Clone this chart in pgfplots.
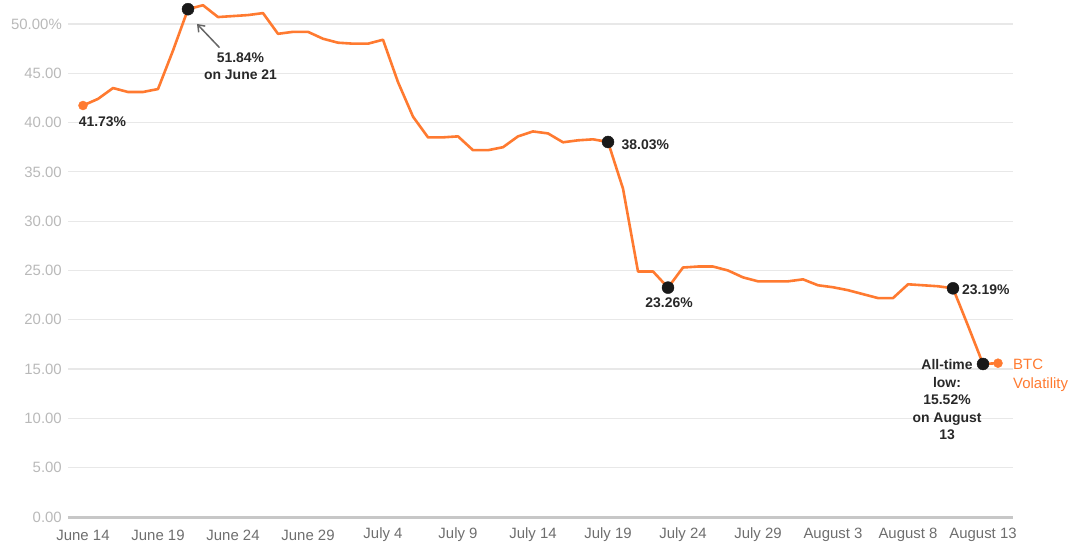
\documentclass[border=0pt]{standalone}
\usepackage{fontspec}
\setmainfont{Liberation Sans}
\usepackage{pgfplots}
\pgfplotsset{compat=1.18}
\usetikzlibrary{arrows.meta,calc}
\definecolor{btc}{RGB}{255,122,48}
\definecolor{ann}{RGB}{40,40,40}
\definecolor{ylab}{RGB}{185,185,185}
\definecolor{xlab}{RGB}{110,110,110}
\definecolor{grid}{RGB}{232,232,232}
\begin{document}
\begin{tikzpicture}
\begin{axis}[
  scale only axis,
  width=945bp, height=517bp,
  xmin=-1, xmax=62,
  ymin=0, ymax=52.43,
  clip=false,
  axis line style={draw=none},
  major tick length=0pt,
  xtick={0,5,10,15,20,25,30,35,40,45,50,55,60},
  xticklabels={June 14,June 19,June 24,June 29,July 4,July 9,July 14,July 19,July 24,July 29,August 3,August 8,August 13},
  xticklabel style={font=\fontsize{15}{17}\selectfont, text=xlab, anchor=center, yshift=-18bp, inner sep=0pt},
  ytick={0,5,10,15,20,25,30,35,40,45,50},
  yticklabels={0.00,5.00,10.00,15.00,20.00,25.00,30.00,35.00,40.00,45.00,50.00\%},
  yticklabel style={font=\fontsize{15}{17}\selectfont, text=ylab, anchor=east, inner sep=0pt, xshift=-6bp},
  ymajorgrids,
  grid style={draw=grid, line width=1.2bp},
  extra y ticks={0},
  extra y tick labels={},
  extra y tick style={grid style={draw=ylab!80, line width=3bp}},
]
\addplot[color=btc, line width=2.6bp, line join=round] coordinates {
(0,41.73) (1,42.4) (2,43.5) (3,43.1) (4,43.1) (5,43.4) (6,47.3) (7,51.5)
(8,51.9) (9,50.7) (10,50.8) (11,50.9) (12,51.1) (13,49.0) (14,49.2) (15,49.2)
(16,48.5) (17,48.1) (18,48.0) (19,48.0) (20,48.4) (21,44.1) (22,40.6) (23,38.5)
(24,38.5) (25,38.6) (26,37.2) (27,37.2) (28,37.5) (29,38.6) (30,39.1) (31,38.9)
(32,38.0) (33,38.2) (34,38.3) (35,38.03) (36,33.3) (37,24.9) (38,24.9) (39,23.26)
(40,25.3) (41,25.4) (42,25.4) (43,25.0) (44,24.3) (45,23.9) (46,23.9) (47,23.9)
(48,24.1) (49,23.5) (50,23.3) (51,23.0) (52,22.6) (53,22.2) (54,22.2) (55,23.6)
(56,23.5) (57,23.4) (58,23.19) (59,19.4) (60,15.52) (61,15.6)
};
\addplot[only marks, mark=*, mark size=4.5bp, color=btc] coordinates {(0,41.73) (61,15.6)};
\addplot[only marks, mark=*, mark size=6bp, color=black!90] coordinates {(7,51.5) (35,38.03) (39,23.26) (58,23.19) (60,15.52)};

\tikzset{lab/.style={font=\fontsize{14}{17.5}\selectfont\bfseries, text=ann, inner sep=0pt, align=center}}
\node[lab] at (axis cs:1.3,40.1) {41.73\%};
\node[lab] at (axis cs:10.5,45.7) {51.84\%\\on June 21};
\draw[-{Straight Barb[length=6bp,width=9bp]}, draw=black!60, line width=1.5bp] (axis cs:9.1,47.6) -- (axis cs:7.6,50.0);
\node[lab, anchor=west] at (axis cs:35.9,37.8) {38.03\%};
\node[lab] at (axis cs:39.07,21.7) {23.26\%};
\node[lab, anchor=west] at (axis cs:58.6,23.0) {23.19\%};
\node[lab] at (axis cs:57.6,11.9) {All-time\\low:\\15.52\%\\on August\\13};
\node[font=\fontsize{15}{19}\selectfont, text=btc, inner sep=0pt, align=left, anchor=west] at (axis cs:62.0,14.4) {BTC\\Volatility};
\end{axis}
\pgfresetboundingbox
\path ($(current axis.south west)+(-68bp,-26bp)$) rectangle ($(current axis.north east)+(62bp,0bp)$);
\end{tikzpicture}
\end{document}
